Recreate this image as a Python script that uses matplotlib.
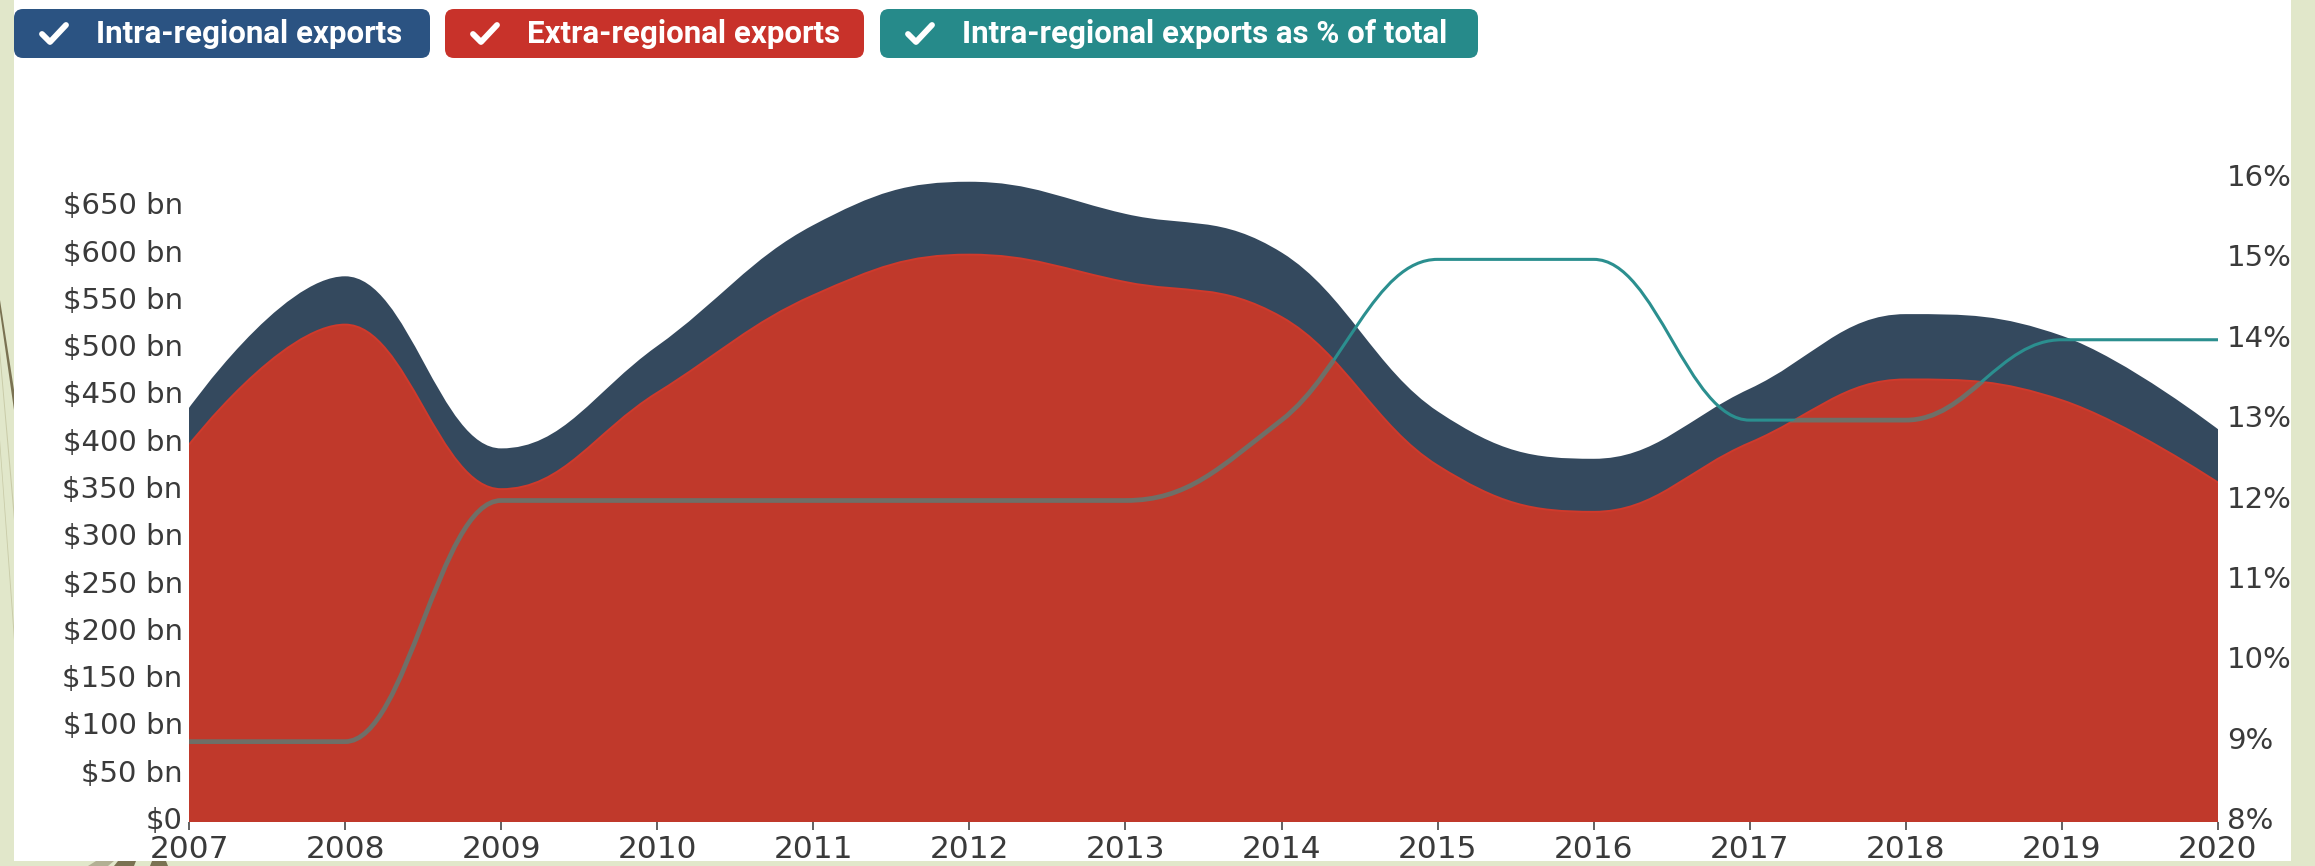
import matplotlib
matplotlib.use("Agg")
import matplotlib.pyplot as plt
from matplotlib.path import Path
from matplotlib.patches import PathPatch, FancyBboxPatch, Rectangle, Polygon
from matplotlib.ticker import FixedLocator, FixedFormatter
from matplotlib.transforms import ScaledTranslation

# Exports data (US$ bn) and intra-regional share (%)
years = list(range(2007, 2021))
extra_regional = [399, 526, 352, 454, 557, 600, 571, 534, 377, 328, 401, 468, 446, 359]
intra_regional = [37, 50, 42, 48, 73, 76, 71, 67, 56, 55, 56, 68, 67, 55]
intra_share = [9, 9, 12, 12, 12, 12, 12, 13, 15, 15, 13, 13, 14, 14]

bn_ticks = list(range(0, 651, 50))
bn_labels = ["$0"] + [f"${v} bn" for v in bn_ticks[1:]]
pct_ticks = list(range(8, 17))
pct_labels = [f"{v}%" for v in pct_ticks]
legend_labels = ["Intra-regional exports", "Extra-regional exports",
                 "Intra-regional exports as % of total"]

RED = "#c0392b"
NAVY = "#34495e"
TEAL = "#2b8f8f"
BUTTON_COLORS = ["#2b5382", "#c8322a", "#268a8a"]
FRAME = "#e1e7ca"

W, H = 2315, 866


def spline_verts(xs, ys, smoothing=1.5):
    # cubic control points, same scheme as highcharts areaspline
    n = len(xs)
    lc = list(zip(xs, ys))
    rc = list(zip(xs, ys))
    den = smoothing + 1
    for i in range(1, n - 1):
        px, py = xs[i], ys[i]
        lx, ly = xs[i - 1], ys[i - 1]
        nx, ny = xs[i + 1], ys[i + 1]
        lcx, lcy = (smoothing * px + lx) / den, (smoothing * py + ly) / den
        rcx, rcy = (smoothing * px + nx) / den, (smoothing * py + ny) / den
        corr = (rcy - lcy) * (rcx - px) / (rcx - lcx) + py - rcy
        lcy += corr
        rcy += corr
        if lcy > ly and lcy > py:
            lcy = max(ly, py); rcy = 2 * py - lcy
        elif lcy < ly and lcy < py:
            lcy = min(ly, py); rcy = 2 * py - lcy
        if rcy > ny and rcy > py:
            rcy = max(ny, py); lcy = 2 * py - rcy
        elif rcy < ny and rcy < py:
            rcy = min(ny, py); lcy = 2 * py - rcy
        lc[i] = (lcx, lcy)
        rc[i] = (rcx, rcy)
    verts = [(xs[0], ys[0])]
    for i in range(1, n):
        verts += [rc[i - 1], lc[i], (xs[i], ys[i])]
    return verts


def curve_codes(n):
    return [Path.MOVETO] + [Path.CURVE4] * (3 * (n - 1))


totals = [e + i for e, i in zip(extra_regional, intra_regional)]
n = len(years)

fig = plt.figure(figsize=(W / 100, H / 100), dpi=100)

# slide frame and decorations
bg = fig.add_axes([0, 0, 1, 1], zorder=0)
bg.set_xlim(0, W)
bg.set_ylim(H, 0)
bg.axis("off")
bg.add_patch(Rectangle((0, 0), W, H, color=FRAME, lw=0))
bg.add_patch(Polygon([(0, 300), (0, 312), (14, 410), (14, 390)], color="#7a7252", lw=0))
bg.add_patch(Polygon([(0, 350), (0, 360), (14, 520), (14, 507)], color="#c9cba8", lw=0))
bg.add_patch(Polygon([(0, 440), (0, 450), (14, 640), (14, 627)], color="#c9cba8", lw=0))
bg.add_patch(Rectangle((14, 0), 2291 - 14, 861, color="white", lw=0))
bg.add_patch(Polygon([(88, 866), (96, 861), (114, 861), (108, 866)], color="#b3b094", lw=0))
bg.add_patch(Polygon([(114, 866), (118, 861), (136, 861), (134, 866)], color="#7a7252", lw=0))
bg.add_patch(Polygon([(150, 866), (152, 861), (166, 861), (168, 866)], color="#7a7252", lw=0))

# legend buttons with a drawn tick mark
buttons = [(14, 430), (445, 864), (880, 1478)]
for (x0, x1), label, col in zip(buttons, legend_labels, BUTTON_COLORS):
    bg.add_patch(FancyBboxPatch((x0, 9), x1 - x0, 49,
                                boxstyle="round,pad=0,rounding_size=9",
                                fc=col, ec="none"))
    cx, cy = x0 + 40, 34
    bg.plot([cx - 12, cx - 4, cx + 12], [cy, cy + 8, cy - 9], color="white",
            lw=4.2, solid_capstyle="round", solid_joinstyle="round")
    bg.text(x0 + 82, 34, label, color="white", fontsize=22.5,
            family="Roboto", fontweight="bold", ha="left", va="center")

# plot area
ax = fig.add_axes([189 / W, (H - 822) / H, (2218 - 189) / W, (822 - 179) / H], zorder=1)
ax.set_facecolor("white")
ax.set_xlim(years[0], years[-1])
ax.set_ylim(0, 680)

red_verts = spline_verts(years, extra_regional)
red_path = Path(red_verts + [(years[-1], 0), (years[0], 0), red_verts[0]],
                curve_codes(n) + [Path.LINETO, Path.LINETO, Path.CLOSEPOLY])
red_patch = PathPatch(red_path, fc=RED, ec="none", zorder=2)
ax.add_patch(red_patch)

top_verts = spline_verts(years, totals)
low_rev = red_verts[::-1]
navy_path = Path(top_verts + low_rev + [top_verts[0]],
                 curve_codes(n) + [Path.LINETO] + [Path.CURVE4] * (3 * (n - 1)) + [Path.CLOSEPOLY])
ax.add_patch(PathPatch(navy_path, fc=NAVY, ec="none", zorder=3))
ax.add_patch(PathPatch(Path(top_verts, curve_codes(n)), fill=False, ec=NAVY, lw=1.5, zorder=3))
ax.add_patch(PathPatch(Path(red_verts, curve_codes(n)), fill=False, ec="#cf3a2c", lw=1.4, zorder=3))

ax.yaxis.set_major_locator(FixedLocator(bn_ticks))
ax.yaxis.set_major_formatter(FixedFormatter(bn_labels))
ax.xaxis.set_major_locator(FixedLocator(years))
ax.xaxis.set_major_formatter(FixedFormatter([str(y) for y in years]))
ax.tick_params(axis="y", length=0, pad=4.5, labelsize=21, labelcolor="#3a3a3a")
ax.tick_params(axis="x", length=6, width=1.3, color="#555555", pad=3,
               labelsize=22.5, labelcolor="#3a3a3a")
for s in ax.spines.values():
    s.set_visible(False)

# share of total on the right axis
ax2 = ax.twinx()
ax2.set_zorder(2)
ax2.patch.set_visible(False)
ax2.set_ylim(8, 16)
ax2.set_xlim(years[0], years[-1])
share_path = Path(spline_verts(years, intra_share), curve_codes(n))
ax2.add_patch(PathPatch(share_path, fill=False, ec=TEAL, lw=2.2, capstyle="butt", zorder=4))
over_red = PathPatch(share_path, fill=False, ec="#6f6f67", lw=3.4, capstyle="butt", zorder=5)
ax2.add_patch(over_red)
over_red.set_clip_path(red_patch)
ax2.yaxis.set_major_locator(FixedLocator(pct_ticks))
ax2.yaxis.set_major_formatter(FixedFormatter(pct_labels))
ax2.tick_params(axis="y", length=0, pad=6.5, labelsize=21, labelcolor="#3a3a3a")
for s in ax2.spines.values():
    s.set_visible(False)

# value labels sit a little above their tick positions
lift = ScaledTranslation(0, 4 / 100, fig.dpi_scale_trans)
for lab in ax.get_yticklabels() + ax2.get_yticklabels():
    lab.set_transform(lab.get_transform() + lift)

fig.savefig("out.png", dpi=100)
